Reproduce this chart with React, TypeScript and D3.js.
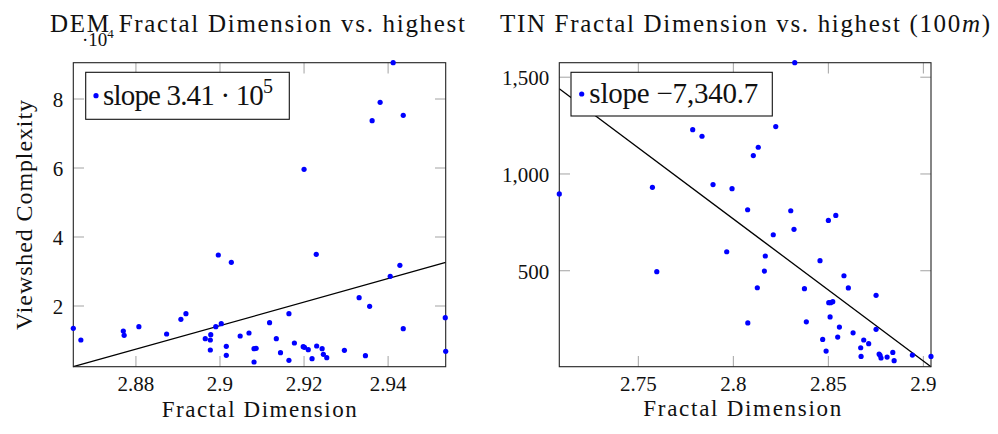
import React from 'react';
import * as d3 from 'd3';

// ---------- DATA ----------
const demX = [
  2.8651, 2.8669, 2.8770, 2.8772, 2.8807, 2.8873, 2.8907, 2.8919, 2.8965, 2.8977,
  2.8978, 2.8977, 2.8990, 2.9003, 2.8996, 2.9027, 2.9015, 2.9015, 2.9048, 2.9069,
  2.9081, 2.9086, 2.9081, 2.9118, 2.9134, 2.9144, 2.9164, 2.9164, 2.9177, 2.9198,
  2.9201, 2.9210, 2.9219, 2.9229, 2.9230, 2.9243, 2.9246, 2.9254, 2.9296, 2.9331,
  2.9346, 2.9356, 2.9405, 2.9428, 2.9436, 2.9536, 2.9537, 2.9200, 2.9362, 2.9381,
  2.9412, 2.9436,
];
const demY = [
  13536, 10145, 12753, 11507, 14000, 11884, 16145, 17768, 10522, 10145,
  11681, 7246, 14000, 14869, 34783, 32667, 8319, 5710, 11304, 12174,
  7623, 7739, 3768, 15159, 10522, 6463, 17768, 4261, 9275, 8203,
  8029, 7333, 4724, 34986, 8406, 7623, 6000, 5014, 7159, 22406,
  5594, 19913, 28609, 31797, 13420, 16609, 6869, 59624, 73711, 79045,
  90523, 75276,
];
const tinX = [
  2.7084, 2.7574, 2.7786, 2.7835, 2.7893, 2.7993, 2.8075, 2.8105, 2.8131, 2.8223,
  2.8302, 2.8323, 2.8539, 2.8500, 2.7597, 2.7965, 2.8076, 2.8126, 2.8163, 2.8168,
  2.8210, 2.8319, 2.8374, 2.8384, 2.8456, 2.8470, 2.8488, 2.8502, 2.8512, 2.8523,
  2.8509, 2.8549, 2.8558, 2.8582, 2.8605, 2.8630, 2.8670, 2.8672, 2.8686, 2.8712,
  2.8751, 2.8751, 2.8767, 2.8772, 2.8777, 2.8809, 2.8839, 2.8846, 2.8942, 2.9040,
];
const tinY = [
  897, 931, 1229, 1195, 945, 924, 815, 1095, 1138, 1245,
  810, 1575, 786, 760, 495, 598, 230, 412, 498, 576,
  686, 714, 407, 236, 552, 145, 85, 335, 335, 340,
  261, 157, 209, 474, 411, 179, 102, 57, 142, 123,
  373, 197, 69, 63, 49, 54, 78, 35, 64, 57,
];

const demSlope = 341000;
const demIntercept = -974593;
const tinSlope = -7340.7;
const tinIntercept = 21321.4;

const demXTicks = [2.88, 2.9, 2.92, 2.94];
const demXTickLabels = ['2.88', '2.9', '2.92', '2.94'];
const demYTicks = [20000, 40000, 60000, 80000];
const demYTickLabels = ['2', '4', '6', '8'];
const tinXTicks = [2.75, 2.8, 2.85, 2.9];
const tinXTickLabels = ['2.75', '2.8', '2.85', '2.9'];
const tinYTicks = [500, 1000, 1500];
const tinYTickLabels = ['500', '1,000', '1,500'];

const FONT = "'Liberation Serif', 'Times New Roman', serif";
const TICK_LEN = 10.7;
const TICK_COLOR = '#ababab';
const TOP = 62.7;
const BOTTOM = 366.7;
const TEXT = '#111';

type PanelProps = {
  left: number;
  right: number;
  xs: number[];
  ys: number[];
  slope: number;
  intercept: number;
  xTicks: number[];
  xTickLabels: string[];
  yTicks: number[];
  yTickLabels: string[];
};

function Panel(p: PanelProps) {
  const [xmin, xmax] = d3.extent(p.xs) as [number, number];
  const lineY = (x: number) => p.slope * x + p.intercept;
  const allY = [...p.ys, lineY(xmin), lineY(xmax)];
  const x = d3.scaleLinear().domain([xmin, xmax]).range([p.left, p.right]);
  const y = d3.scaleLinear().domain([d3.min(allY)!, d3.max(allY)!]).range([BOTTOM, TOP]);
  const lineGen = d3
    .line<number>()
    .x((d) => x(d))
    .y((d) => y(lineY(d)));
  return (
    <g>
      <rect x={p.left} y={TOP} width={p.right - p.left} height={BOTTOM - TOP} fill="white" />
      {p.xTicks.map((t, i) => (
        <g key={'xt' + i}>
          <line x1={x(t)} x2={x(t)} y1={BOTTOM} y2={BOTTOM - TICK_LEN} stroke={TICK_COLOR} strokeWidth={1.1} />
          <line x1={x(t)} x2={x(t)} y1={TOP} y2={TOP + TICK_LEN} stroke={TICK_COLOR} strokeWidth={1.1} />
          <text x={x(t)} y={390.5} textAnchor="middle" fontSize={21} fontFamily={FONT} fill={TEXT}>
            {p.xTickLabels[i]}
          </text>
        </g>
      ))}
      {p.yTicks.map((t, i) => (
        <g key={'yt' + i}>
          <line x1={p.left} x2={p.left + TICK_LEN} y1={y(t)} y2={y(t)} stroke={TICK_COLOR} strokeWidth={1.1} />
          <line x1={p.right} x2={p.right - TICK_LEN} y1={y(t)} y2={y(t)} stroke={TICK_COLOR} strokeWidth={1.1} />
          <text x={p.left - 10} y={y(t) + 8} textAnchor="end" fontSize={21} fontFamily={FONT} fill={TEXT}>
            {p.yTickLabels[i]}
          </text>
        </g>
      ))}
      <path d={lineGen([xmin, xmax]) || ''} stroke="black" strokeWidth={1.3} fill="none" />
      <rect x={p.left} y={TOP} width={p.right - p.left} height={BOTTOM - TOP} fill="none" stroke="#222" strokeWidth={1.1} />
      {p.xs.map((xv, i) => (
        <circle key={'pt' + i} cx={x(xv)} cy={y(p.ys[i])} r={2.6} fill="#0000ff" />
      ))}
    </g>
  );
}

export default function App() {
  return (
    <svg
      width={998}
      height={434}
      viewBox="0 0 998 434"
      fontFamily={FONT}
      style={{ position: 'absolute', left: 0, top: 0, background: 'white' }}
    >
      <rect x={0} y={0} width={998} height={434} fill="white" />
      <Panel
        left={73.3}
        right={445.7}
        xs={demX}
        ys={demY}
        slope={demSlope}
        intercept={demIntercept}
        xTicks={demXTicks}
        xTickLabels={demXTickLabels}
        yTicks={demYTicks}
        yTickLabels={demYTickLabels}
      />
      <Panel
        left={559.3}
        right={931}
        xs={tinX}
        ys={tinY}
        slope={tinSlope}
        intercept={tinIntercept}
        xTicks={tinXTicks}
        xTickLabels={tinXTickLabels}
        yTicks={tinYTicks}
        yTickLabels={tinYTickLabels}
      />

      {/* Titles */}
      <text x={50} y={31.5} fontSize={25} fontFamily={FONT} fill={TEXT} textLength={415} lengthAdjust="spacing">
        DEM Fractal Dimension vs. highest
      </text>
      <text x={500} y={31.5} fontSize={25} fontFamily={FONT} fill={TEXT} textLength={490} lengthAdjust="spacing">
        TIN Fractal Dimension vs. highest (100<tspan fontStyle="italic">m</tspan>)
      </text>

      {/* exponent label */}
      <text x={82} y={46} fontSize={19} fontFamily={FONT} fill={TEXT}>
        ·10<tspan dy={-8} fontSize={13}>4</tspan>
      </text>

      {/* Axis labels */}
      <text
        transform="translate(32,215) rotate(-90)"
        textAnchor="middle"
        fontSize={24}
        fontFamily={FONT}
        fill={TEXT}
        textLength={230}
        lengthAdjust="spacing"
      >
        Viewshed Complexity
      </text>
      <text x={161.7} y={416.5} fontSize={23} fontFamily={FONT} fill={TEXT} textLength={195} lengthAdjust="spacing">
        Fractal Dimension
      </text>
      <text x={643.3} y={416} fontSize={23} fontFamily={FONT} fill={TEXT} textLength={198} lengthAdjust="spacing">
        Fractal Dimension
      </text>

      {/* Legends */}
      <rect x={85.7} y={72.3} width={203.6} height={47} fill="white" stroke="#111" strokeWidth={1.1} />
      <circle cx={96} cy={95.7} r={2.6} fill="#0000ff" />
      <text x={103} y={105} fontSize={29} fontFamily={FONT} fill={TEXT} textLength={170} lengthAdjust="spacing">
        slope 3.41 · 10<tspan dy={-12} fontSize={20}>5</tspan>
      </text>
      <rect x={571} y={72.3} width={201.3} height={43.7} fill="white" stroke="#111" strokeWidth={1.1} />
      <circle cx={581.7} cy={94} r={2.6} fill="#0000ff" />
      <text x={589.3} y={103} fontSize={29} fontFamily={FONT} fill={TEXT} textLength={169} lengthAdjust="spacing">
        slope −7,340.7
      </text>
    </svg>
  );
}
